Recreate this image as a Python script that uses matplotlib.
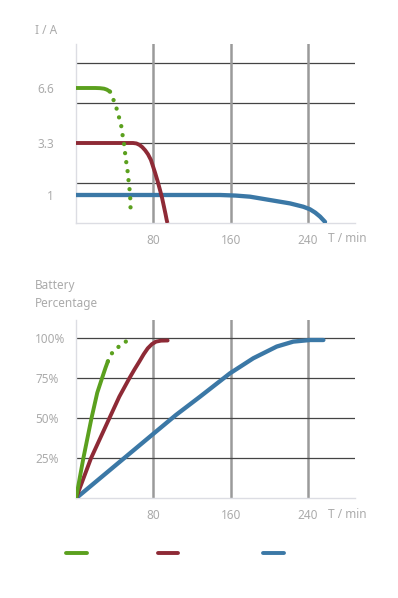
import numpy as np
import matplotlib
matplotlib.use("Agg")
import matplotlib.pyplot as plt
from matplotlib.lines import Line2D

plt.rcParams['font.family'] = ['Noto Sans', 'DejaVu Sans']

# ---------------- data ----------------
c_green = '#5ba01e'
c_red = '#8e2a36'
c_blue = '#3b78a6'

# Top chart: current (A) vs time (min)
green_i_t = [0, 20, 24.8, 29.0, 32.0, 35.2, 41.0, 43.1, 45.5, 47.3, 48.3, 49.7, 50.7,
             51.7, 53.1, 53.8, 54.9, 55.6, 56.2, 56.4, 56.9]
green_i_a = [6.6, 6.6, 6.59, 6.56, 6.5, 6.38, 5.58, 5.12, 4.64, 4.19, 3.72, 3.25, 2.88,
             2.52, 2.19, 1.81, 1.49, 1.14, 0.84, 0.56, 0.25]
green_i_split = 5  # solid up to this index, dotted afterwards

red_i_t = [0, 59.0, 62.5, 65.5, 68.5, 71.5, 74.5, 77.5, 81.7, 84.5, 86.9, 89.0,
           91.0, 92.6, 93.8, 94.6]
red_i_a = [3.3, 3.3, 3.28, 3.22, 3.12, 2.98, 2.8, 2.55, 2.0, 1.6, 1.22, 0.9,
           0.58, 0.32, 0.11, 0.0]

blue_i_t = [0, 149, 165, 180, 200.7, 221.4, 235.2, 242.0, 247.5, 252.4, 257.6]
blue_i_a = [1.0, 1.0, 0.98, 0.94, 0.82, 0.70, 0.58, 0.49, 0.37, 0.23, 0.04]

i_ticks = [1, 3.3, 6.6]
i_tick_labels = ['1', '3.3', '6.6']

# Bottom chart: battery percentage vs time (min)
green_p_t = [0, 7.6, 16.0, 22.0, 26.9, 30.5, 33.0, 36.2, 42.1, 49.3, 56.2]
green_p_v = [0, 25.0, 50.0, 66.0, 75.0, 81.5, 85.6, 90.0, 93.7, 97.2, 99.4]
green_p_split = 6

red_p_t = [0, 15.5, 34.5, 44.8, 55.2, 60.5, 65.5, 70.0, 74.2, 78.5, 82.8, 88.0, 94.8]
red_p_v = [0, 25.0, 50.0, 63.5, 75.0, 80.5, 85.4, 90.0, 93.7, 96.3, 97.9, 98.5, 98.6]

blue_p_t = [0, 80, 103.5, 128.3, 159.3, 183.4, 207.6, 224.8, 242.1, 255.9]
blue_p_v = [0, 40.3, 52.1, 63.5, 78.1, 87.5, 94.8, 97.9, 98.9, 98.9]

p_ticks = [25, 50, 75, 100]
p_tick_labels = ['25%', '50%', '75%', '100%']

x_ticks = [80, 160, 240]
x_tick_labels = ['80', '160', '240']

# ---------------- scale for top chart (non-uniform current axis) ----------
lvl_k = [0, 0.7, 2.0, 3.375, 4.475]
amp_k = [0, 1.0, 3.3, 6.6, 9.24]


def fwd(a):
    return np.interp(np.asarray(a, dtype=float), amp_k, lvl_k)


def inv(l):
    return np.interp(np.asarray(l, dtype=float), lvl_k, amp_k)


# ---------------- figure ----------------
W, H = 398, 598
fig = plt.figure(figsize=(W / 100, H / 100), dpi=100)

txt_col = '#ababab'
fs = 8.5
spine_col = '#dcdde3'
vgrid_col = '#9a9a9a'
hgrid_col = '#444444'
XMAX = 288.6


def fx(px):
    return px / W


def fy(py):
    return 1 - py / H


def style_axes(ax):
    for s in ['top', 'right']:
        ax.spines[s].set_visible(False)
    for s in ['left', 'bottom']:
        ax.spines[s].set_color(spine_col)
        ax.spines[s].set_linewidth(1.0)
        ax.spines[s].set_zorder(1)
    ax.set_xlim(0, XMAX)
    ax.set_xticks(x_ticks)
    ax.set_xticklabels(x_tick_labels)
    ax.tick_params(axis='x', length=0, pad=8, labelcolor=txt_col, labelsize=fs)
    ax.grid(axis='x', which='major', color=vgrid_col, lw=1.8)
    ax.set_axisbelow(True)


lw = 2.8
dots = (0, (0.01, 2.1))

# ---- top axes ----
ax1 = fig.add_axes([fx(76), fy(223), fx(355) - fx(76), fy(44) - fy(223)])
style_axes(ax1)
ax1.set_yscale('function', functions=(fwd, inv))
ax1.set_ylim(0, 9.24)
ax1.set_yticks(i_ticks)
ax1.set_yticklabels(i_tick_labels)
ax1.yaxis.set_minor_locator(plt.NullLocator())
ax1.tick_params(axis='y', which='both', length=0, labelcolor=txt_col, labelsize=fs, pad=16)
for yv in inv([1, 2, 3, 4]):
    ax1.axhline(yv, color=hgrid_col, lw=0.9, zorder=0.5)

ax1.plot(blue_i_t, blue_i_a, color=c_blue, lw=lw + 0.3, solid_capstyle='round', zorder=3)
ax1.plot(red_i_t, red_i_a, color=c_red, lw=lw, solid_capstyle='butt', zorder=4)
s = green_i_split
ax1.plot(green_i_t[:s + 1], green_i_a[:s + 1], color=c_green, lw=lw, solid_capstyle='butt', zorder=5)
ax1.plot(green_i_t[s:], green_i_a[s:], color=c_green, lw=lw + 0.3, linestyle=dots,
         dash_capstyle='round', zorder=5)

fig.text(fx(35), fy(30), 'I / A', ha='left', va='center', color=txt_col, fontsize=fs)
fig.text(fx(328), fy(238), 'T / min', ha='left', va='center', color=txt_col, fontsize=fs)

# ---- bottom axes ----
ax2 = fig.add_axes([fx(76), fy(498.3), fx(355) - fx(76), fy(320) - fy(498.3)])
style_axes(ax2)
ax2.set_ylim(0, 111.4)
ax2.set_yticks(p_ticks)
ax2.set_yticklabels(p_tick_labels)
ax2.tick_params(axis='y', length=0, labelcolor=txt_col, labelsize=fs, pad=29.5)
for t in ax2.get_yticklabels():
    t.set_horizontalalignment('left')
ax2.grid(axis='y', which='major', color=hgrid_col, lw=0.9)

ax2.plot(blue_p_t, blue_p_v, color=c_blue, lw=lw + 0.3, solid_capstyle='round', zorder=3)
ax2.plot(red_p_t, red_p_v, color=c_red, lw=lw, solid_capstyle='round', zorder=4)
s = green_p_split
ax2.plot(green_p_t[:s + 1], green_p_v[:s + 1], color=c_green, lw=lw, solid_capstyle='round', zorder=5)
ax2.plot(green_p_t[s:], green_p_v[s:], color=c_green, lw=lw + 0.3, linestyle=dots,
         dash_capstyle='round', zorder=5)

fig.text(fx(35), fy(285), 'Battery', ha='left', va='center', color=txt_col, fontsize=fs)
fig.text(fx(35), fy(303), 'Percentage', ha='left', va='center', color=txt_col, fontsize=fs)
fig.text(fx(328), fy(514), 'T / min', ha='left', va='center', color=txt_col, fontsize=fs)

# ---- legend swatches ----
for x0, x1, c in [(66, 87, c_green), (158, 178, c_red), (263, 284, c_blue)]:
    fig.add_artist(Line2D([fx(x0), fx(x1)], [fy(553), fy(553)], transform=fig.transFigure,
                          color=c, lw=2.8, solid_capstyle='round'))

fig.savefig('out.png', dpi=100, facecolor='white')
